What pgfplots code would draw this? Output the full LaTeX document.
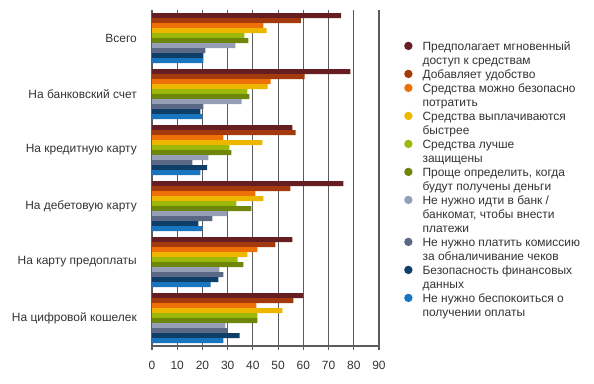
\documentclass[border=0pt]{standalone}
\usepackage{pgfplots}
\usepackage{pgfplotstable}
\pgfplotsset{compat=1.18}
\usepackage{fontspec}
\setmainfont{Liberation Sans}
\definecolor{c1}{HTML}{671E23}
\definecolor{c2}{HTML}{A33A0B}
\definecolor{c3}{HTML}{F07008}
\definecolor{c4}{HTML}{EDB700}
\definecolor{c5}{HTML}{9DB80A}
\definecolor{c6}{HTML}{6E8609}
\definecolor{c7}{HTML}{959FB5}
\definecolor{c8}{HTML}{5A6886}
\definecolor{c9}{HTML}{0F3E68}
\definecolor{c10}{HTML}{1A75C0}
\definecolor{gridc}{HTML}{5C5C5C}
\definecolor{txt}{HTML}{333333}
\pgfplotstableread{
cat s1 s2 s3 s4 s5 s6 s7 s8 s9 s10
0 75.0 59.0 44.2 45.4 36.6 38.2 33.1 21.2 20.4 20.4
1 78.7 60.5 47.0 45.8 37.8 38.6 35.5 20.4 19.2 20.0
2 55.7 56.9 28.3 43.8 30.7 31.5 22.4 16.0 21.9 19.2
3 75.9 54.9 41.0 44.2 33.5 39.4 29.9 23.9 18.4 20.0
4 55.7 48.9 41.8 37.8 33.9 36.2 26.7 28.3 26.3 23.2
5 59.9 56.1 41.4 51.7 41.8 41.8 29.1 29.9 34.7 28.3
}\data
\pgfplotsset{mybar/.style 2 args={xbar, bar width=5bp, bar shift=#2, fill=#1, draw=none}}
\begin{document}
\begin{tikzpicture}
\path[use as bounding box] (0,0) rectangle (594bp,384bp);
\begin{axis}[
  at={(152bp,38bp)}, anchor=south west,
  scale only axis, width=227bp, height=336bp,
  xmin=0, xmax=90, xtick={0,10,...,90},
  ymin=-0.5, ymax=5.5, y dir=reverse,
  ytick={0,1,2,3,4,5},
  yticklabels={Всего,На банковский счет,На кредитную карту,На дебетовую карту,На карту предоплаты,На цифровой кошелек},
  axis lines*=left,
  axis line style={gridc, line width=1.2bp},
  xmajorgrids, grid style={gridc, line width=1.2bp},
  tick align=outside, major tick length=4bp,
  xtick style={gridc, line width=1.2bp},
  ytick style={draw=none},
  /pgf/number format/assume math mode=true,
  tick label style={font=\fontsize{12}{14}\selectfont, text=txt},
  yticklabel style={anchor=east, inner sep=0pt, xshift=-11bp},
  xticklabel style={anchor=north, inner sep=0pt, yshift=-11bp},
  legend style={at={(1,1)}, anchor=north west, xshift=25bp, yshift=-30bp,
    draw=none, fill=none, font=\fontsize{12}{14}\selectfont, text=txt,
    row sep=0pt, column sep=10bp, inner sep=0pt,
    nodes={inner sep=0pt, anchor=base west, text height=10bp, text depth=4bp}},
  legend image code/.code={\node[circle, fill, draw=none, inner sep=0pt, minimum size=8.4bp, text height=0pt, text depth=0pt, anchor=center] at (4.2bp,4.3bp) {};},
]
\addplot[mybar={c1}{22.5bp}] table[x=s1,y=cat]{\data};
\addlegendimage{empty legend}
\addplot[mybar={c2}{17.5bp}] table[x=s2,y=cat]{\data};
\addplot[mybar={c3}{12.5bp}] table[x=s3,y=cat]{\data};
\addlegendimage{empty legend}
\addplot[mybar={c4}{7.5bp}] table[x=s4,y=cat]{\data};
\addlegendimage{empty legend}
\addplot[mybar={c5}{2.5bp}] table[x=s5,y=cat]{\data};
\addlegendimage{empty legend}
\addplot[mybar={c6}{-2.5bp}] table[x=s6,y=cat]{\data};
\addlegendimage{empty legend}
\addplot[mybar={c7}{-7.5bp}] table[x=s7,y=cat]{\data};
\addlegendimage{empty legend}
\addlegendimage{empty legend}
\addplot[mybar={c8}{-12.5bp}] table[x=s8,y=cat]{\data};
\addlegendimage{empty legend}
\addplot[mybar={c9}{-17.5bp}] table[x=s9,y=cat]{\data};
\addlegendimage{empty legend}
\addplot[mybar={c10}{-22.5bp}] table[x=s10,y=cat]{\data};
\addlegendimage{empty legend}
\addlegendentry{Предполагает мгновенный}
\addlegendentry{доступ к средствам}
\addlegendentry{Добавляет удобство}
\addlegendentry{Средства можно безопасно}
\addlegendentry{потратить}
\addlegendentry{Средства выплачиваются}
\addlegendentry{быстрее}
\addlegendentry{Средства лучше}
\addlegendentry{защищены}
\addlegendentry{Проще определить, когда}
\addlegendentry{будут получены деньги}
\addlegendentry{Не нужно идти в банк /}
\addlegendentry{банкомат, чтобы внести}
\addlegendentry{платежи}
\addlegendentry{Не нужно платить комиссию}
\addlegendentry{за обналичивание чеков}
\addlegendentry{Безопасность финансовых}
\addlegendentry{данных}
\addlegendentry{Не нужно беспокоиться о}
\addlegendentry{получении оплаты}
\end{axis}
\end{tikzpicture}
\end{document}
